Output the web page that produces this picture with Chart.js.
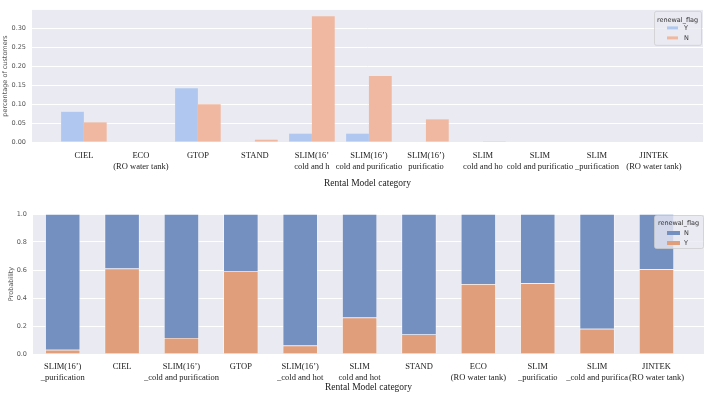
<!DOCTYPE html>
<html>
<head>
<meta charset="utf-8">
<script src="https://cdn.jsdelivr.net/npm/chart.js@4"></script>
<style>
  body { margin: 0; background: #fff; width: 708px; height: 393px; overflow: hidden; position: relative; }
  .box { position: absolute; left: 0; width: 708px; }
</style>
</head>
<body>
<div class="box" style="top:0;height:195px"><canvas id="topChart"></canvas></div>
<div class="box" style="top:195px;height:198px"><canvas id="bottomChart"></canvas></div>
<script>
// top chart: share of customers per model
const topModels = [
  "CIEL", ["ECO", "(RO water tank)"], "GTOP", "STAND",
  ["SLIM(16’", "cold and h"], ["SLIM(16’)", "cold and purificatio"],
  ["SLIM(16’)", "purificatio"], ["SLIM", "cold and ho"],
  ["SLIM", "cold and purificatio"], ["SLIM", "_purification"],
  ["JINTEK", "(RO water tank)"]
];
const topRenewY = [0.080, 0, 0.1425, 0, 0.022, 0.022, 0, 0, 0, 0, 0];
const topRenewN = [0.052, 0, 0.100, 0.006, 0.333, 0.175, 0.060, 0.002, 0, 0, 0];
const topYTicks = [0, 0.05, 0.10, 0.15, 0.20, 0.25, 0.30];

// bottom chart: renewal probability per model
const bottomModels = [
  ["SLIM(16’)", "_purification"], "CIEL", ["SLIM(16’)", "_cold and purification"],
  "GTOP", ["SLIM(16’)", "_cold and hot"], ["SLIM", "cold and hot"], "STAND",
  ["ECO", "(RO water tank)"], ["SLIM", "_purificatio"], ["SLIM", "_cold and purifica"],
  ["JINTEK", "(RO water tank)"]
];
const probY = [0.03, 0.61, 0.115, 0.59, 0.06, 0.26, 0.14, 0.50, 0.505, 0.18, 0.605];
const probN = [0.97, 0.39, 0.885, 0.41, 0.94, 0.74, 0.86, 0.50, 0.495, 0.82, 0.395];
const bottomYTicks = [0, 0.2, 0.4, 0.6, 0.8, 1.0];

const serif = "'Liberation Serif', 'Times New Roman', serif";
const sans = "'DejaVu Sans', sans-serif";

// seaborn-like grey panel
const panelBg = {
  id: "panelBg",
  beforeDraw(chart) {
    const { ctx, chartArea: a } = chart;
    ctx.save();
    ctx.fillStyle = "#eaeaf2";
    ctx.fillRect(a.left, a.top, a.right - a.left, a.bottom - a.top);
    ctx.restore();
  }
};

// legend box drawn inside the plot, top right
const boxLegend = {
  id: "boxLegend",
  afterDraw(chart, args, o) {
    const { ctx, chartArea } = chart;
    const x = chartArea.right - o.width - o.right;
    const y = chartArea.top + o.top;
    ctx.save();
    ctx.fillStyle = "rgba(234,234,242,0.8)";
    ctx.strokeStyle = "rgba(204,204,204,0.9)";
    ctx.lineWidth = 0.8;
    ctx.beginPath();
    ctx.roundRect(x + 0.5, y + 0.5, o.width, o.height, 2);
    ctx.fill();
    ctx.stroke();
    ctx.font = "6.5px " + sans;
    ctx.fillStyle = "#333";
    ctx.textAlign = "center";
    ctx.textBaseline = "middle";
    ctx.fillText(o.title, x + o.width / 2, y + o.titleDy);
    o.order.forEach((di, k) => {
      const ds = chart.data.datasets[di];
      const ry = y + o.rowDy + k * 10;
      ctx.fillStyle = ds.backgroundColor;
      ctx.fillRect(x + 13, ry - o.patchH / 2, o.patchW, o.patchH);
      ctx.fillStyle = "#333";
      ctx.textAlign = "left";
      ctx.fillText(ds.label, x + 30, ry);
    });
    ctx.restore();
  }
};

function xAxis(labels, min, max, height, pad, titlePad) {
  return {
    type: "linear", min: min, max: max, offset: false,
    grid: { display: false }, border: { display: false },
    afterBuildTicks: s => { s.ticks = labels.map((_, i) => ({ value: i })); },
    afterFit: s => { s.height = height; },
    ticks: {
      autoSkip: false, maxRotation: 0, minRotation: 0, padding: pad,
      color: "#1a1a1a", font: { family: serif, size: 8.5, lineHeight: 1.2 },
      callback: v => labels[v]
    },
    title: {
      display: true, text: "Rental Model category", color: "#1a1a1a",
      font: { family: serif, size: 9.5 }, padding: { top: 0, bottom: titlePad }
    }
  };
}

function yAxis(tickVals, min, max, width, digits, title, titlePad) {
  return {
    min: min, max: max,
    afterBuildTicks: s => { s.ticks = tickVals.map(v => ({ value: v })); },
    afterFit: s => { s.width = width; },
    grid: { color: "#ffffff", lineWidth: 1, drawTicks: false },
    border: { display: false },
    ticks: {
      padding: 6, color: "#555", font: { family: sans, size: 6.5 },
      callback: v => v.toFixed(digits)
    },
    title: {
      display: true, text: title, color: "#555",
      font: { family: sans, size: 6.5 }, padding: { top: titlePad, bottom: 0 }
    }
  };
}

new Chart(document.getElementById("topChart"), {
  type: "bar",
  data: {
    datasets: [
      { label: "Y", data: topRenewY.map((v, i) => ({ x: i, y: v })), backgroundColor: "#b0c8f0" },
      { label: "N", data: topRenewN.map((v, i) => ({ x: i, y: v })), backgroundColor: "#f0b8a0" }
    ]
  },
  options: {
    responsive: true, maintainAspectRatio: false, animation: false,
    layout: { padding: { top: 2, right: 5, left: 0, bottom: 0 } },
    datasets: { bar: { categoryPercentage: 0.8, barPercentage: 1 } },
    scales: {
      x: xAxis(topModels, -0.91, 10.86, 53, 1, 6),
      y: yAxis(topYTicks, 0, 0.35, 32, 2, "percentage of customers", 1)
    },
    plugins: {
      legend: { display: false }, tooltip: { enabled: false },
      boxLegend: { title: "renewal_flag", order: [0, 1], width: 47, height: 34, right: 2, top: 1,
                   titleDy: 9, rowDy: 17, patchW: 11, patchH: 3 }
    }
  },
  plugins: [panelBg, boxLegend]
});

new Chart(document.getElementById("bottomChart"), {
  type: "bar",
  data: {
    datasets: [
      { label: "Y", data: probY.map((v, i) => ({ x: i, y: v })), backgroundColor: "#e09e7a", stack: "s" },
      { label: "N", data: probN.map((v, i) => ({ x: i, y: v })), backgroundColor: "#7490c1", stack: "s" }
    ]
  },
  options: {
    responsive: true, maintainAspectRatio: false, animation: false,
    layout: { padding: { top: 19, right: 4, left: 0, bottom: 0 } },
    datasets: { bar: { categoryPercentage: 0.59, barPercentage: 1, borderColor: "rgba(255,255,255,0.8)", borderWidth: 0.7 } },
    scales: {
      x: xAxis(bottomModels, -0.5, 10.8, 39, 0, 0),
      y: Object.assign(yAxis(bottomYTicks, 0, 1, 33, 1, "Probability", 7), { stacked: true })
    },
    plugins: {
      legend: { display: false }, tooltip: { enabled: false },
      boxLegend: { title: "renewal_flag", order: [1, 0], width: 49, height: 33, right: 1, top: 1,
                   titleDy: 8, rowDy: 18, patchW: 13, patchH: 4 }
    }
  },
  plugins: [panelBg, boxLegend]
});
</script>
</body>
</html>
